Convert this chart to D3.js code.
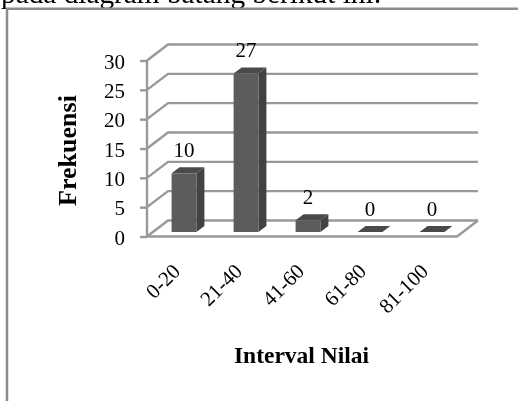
<!DOCTYPE html>
<html><head><meta charset="utf-8">
<script src="https://cdnjs.cloudflare.com/ajax/libs/d3/7.8.5/d3.min.js"></script>
<style>html,body{margin:0;padding:0;background:#fff;overflow:hidden}svg{display:block;filter:blur(0.35px)}text{font-family:"Liberation Serif",serif;fill:#000}</style>
</head><body><svg id="c" width="518" height="401"></svg>
<script>
const categories = ["0-20","21-40","41-60","61-80","81-100"];
const frequencies = [10,27,2,0,0];
const yTicks = [0,5,10,15,20,25,30];
const introText = "pada diagram batang berikut ini:";
const xTitle = "Interval Nilai";
const yTitle = "Frekuensi";

const svg = d3.select("#c");
const wall = {dx:21, dy:-16};
const barDepth = {dx:8, dy:-6};
const floorShift = {dx:6, dy:-4.5};
const y = d3.scaleLinear().domain([0,30]).range([236.5,60.5]);
const x = d3.scaleBand().domain(categories).range([147,457]).paddingInner(0.6).paddingOuter(0.3);
const axisColor = "#999";

// frame and cropped intro line
svg.append("text").attr("x",1).attr("y",2.5).attr("font-size",29.3).text(introText);
svg.append("path").attr("d","M7,401V8.7H518").attr("fill","none").attr("stroke","#8c8c8c").attr("stroke-width",2.5);

// grid: wall lines with their diagonal on the side wall
const grid = svg.append("g").attr("fill","none").attr("stroke",axisColor).attr("stroke-width",2.4);
grid.selectAll("path").data(yTicks).join("path")
  .attr("d",d=>`M${x.range()[0]},${y(d)}l${wall.dx},${wall.dy}H${x.range()[1]+wall.dx}`);
grid.append("path").attr("d",`M${x.range()[0]},${y(0)}H${x.range()[1]}l${wall.dx},${wall.dy}`);

// value axis via d3.axisLeft
const axis = svg.append("g").attr("transform",`translate(${x.range()[0]},0)`)
  .call(d3.axisLeft(y).tickValues(yTicks).tickSize(7).tickPadding(15));
axis.selectAll("line,path").attr("stroke",axisColor).attr("stroke-width",2.4);
axis.select(".domain").attr("d",`M0,${y(30)}V${y(0)}`);
axis.selectAll("text").attr("font-size",21).attr("font-family","Liberation Serif").attr("fill","#000").attr("dy","0.36em");

// 3D bars
const bars = svg.append("g").selectAll("g").data(categories).join("g")
  .attr("transform",c=>`translate(${x(c)+floorShift.dx},${floorShift.dy})`);
const w = x.bandwidth();
const val = (c)=>frequencies[categories.indexOf(c)];
bars.append("path").attr("fill","#424242")
  .attr("d",c=>`M${w},${y(val(c))}l${barDepth.dx},${barDepth.dy}V${y(0)+barDepth.dy}l${-barDepth.dx},${-barDepth.dy}Z`);
bars.append("path").attr("fill","#4a4a4a")
  .attr("d",c=>`M0,${y(val(c))}l${barDepth.dx},${barDepth.dy}h${w}l${-barDepth.dx},${-barDepth.dy}Z`);
bars.append("rect").attr("fill","#5c5c5c").attr("x",0).attr("width",w)
  .attr("y",c=>y(val(c))).attr("height",c=>y(0)-y(val(c)));
bars.append("text").attr("x",w/2).attr("y",c=>y(val(c))-16.5).attr("text-anchor","middle")
  .attr("font-size",21).text(c=>val(c));

// category labels
svg.append("g").selectAll("text").data(categories).join("text")
  .attr("text-anchor","end").attr("font-size",21)
  .attr("transform",c=>`translate(${x(c)+w/2+3.5},${272.5}) rotate(-45)`).text(c=>c);

svg.append("text").attr("x",301.5).attr("y",363).attr("text-anchor","middle")
  .attr("font-size",23.5).attr("font-weight","bold").text(xTitle);
svg.append("text").attr("transform","translate(76,150.5) rotate(-90)").attr("text-anchor","middle")
  .attr("font-size",26).attr("font-weight","bold").text(yTitle);
</script></body></html>
